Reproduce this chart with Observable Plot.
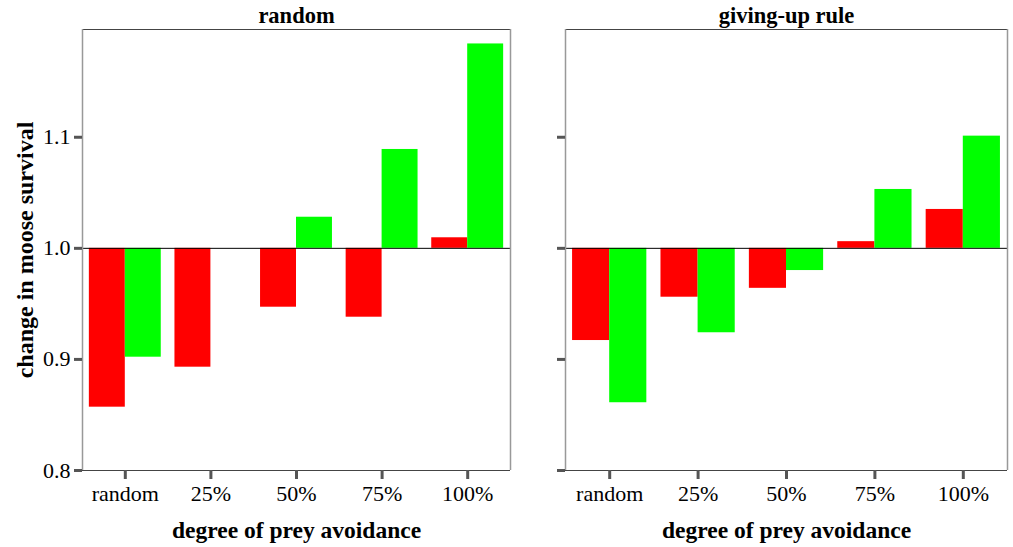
<!DOCTYPE html>
<html>
<head>
<meta charset="utf-8">
<script src="https://cdn.jsdelivr.net/npm/d3@7"></script>
<script src="https://cdn.jsdelivr.net/npm/@observablehq/plot@0.6"></script>
<style>
  body { margin: 0; background: #fff; }
  #chart { position: relative; width: 1013px; height: 547px; overflow: hidden; }
  #chart svg { position: absolute; top: 0; }
</style>
</head>
<body>
<div id="chart"></div>
<script>
// Degree of prey avoidance (x categories)
const categories = ["random", "25%", "50%", "75%", "100%"];

// Panel titles
const panelTitles = ["random", "giving-up rule"];

// Change in moose survival, "random" search panel
const randomRed   = [0.857, 0.893, 0.947, 0.938, 1.0095];
const randomGreen = [0.902, null,  1.028, 1.089, 1.184];

// Change in moose survival, "giving-up rule" panel
const givingUpRed   = [0.917, 0.956, 0.964, 1.006, 1.035];
const givingUpGreen = [0.861, 0.924, 0.980, 1.053, 1.101];

// Y axis ticks
const yTicks = [0.8, 0.9, 1.0, 1.1];

const yMin = 0.8, yMax = 1.197, baseline = 1.0;
const barWidth = 0.42; // fraction of a category slot per bar
const colors = { red: "#ff0000", green: "#00ff00" };
const fontFamily = "'Liberation Serif', 'Times New Roman', Times, serif";
const tickFont = 22;

function rowsFor(red, green) {
  const rows = [];
  categories.forEach((c, i) => {
    if (red[i] != null) rows.push({ i, series: "red", value: red[i] });
    if (green[i] != null) rows.push({ i, series: "green", value: green[i] });
  });
  return rows;
}

function panel({ title, red, green, width, marginLeft, marginRight, yLabels }) {
  const rows = rowsFor(red, green);
  return Plot.plot({
    width,
    height: 547,
    marginTop: 29,
    marginBottom: 77,
    marginLeft,
    marginRight,
    style: { fontFamily, fontSize: `${tickFont}px`, color: "#000", background: "transparent", overflow: "visible" },
    x: { domain: [-0.5, categories.length - 0.5] },
    y: { domain: [yMin, yMax] },
    marks: [
      Plot.rect(rows, {
        x1: d => d.i + (d.series === "red" ? -barWidth : 0),
        x2: d => d.i + (d.series === "red" ? 0 : barWidth),
        y1: baseline,
        y2: "value",
        fill: d => colors[d.series]
      }),
      Plot.ruleY([baseline], { stroke: "#000", strokeWidth: 1 }),
      Plot.ruleY([yMin, yMax], { stroke: "#444", strokeWidth: 1.2 }),
      Plot.ruleX([-0.5, categories.length - 0.5], { stroke: "#999", strokeWidth: 1.5 }),
      Plot.axisY({
        ticks: yTicks,
        tickSize: 8,
        tickPadding: 4,
        tickFormat: yLabels ? d3.format(".1f") : () => "",
        stroke: "#555",
        strokeWidth: 3,
        fontSize: tickFont,
        fill: "#000",
        label: null
      }),
      Plot.axisX({
        ticks: d3.range(categories.length),
        tickSize: 9,
        tickPadding: 6,
        tickFormat: i => categories[i],
        stroke: "#555",
        strokeWidth: 3,
        fontSize: tickFont,
        fill: "#000",
        label: null
      }),
      Plot.text([title], { frameAnchor: "top", lineAnchor: "middle", dy: -14, fontSize: 22.5, fontWeight: "bold", fill: "#000" }),
      Plot.text(["degree of prey avoidance"], { frameAnchor: "bottom", lineAnchor: "middle", dy: 60, fontSize: 23.5, fontWeight: "bold", fill: "#000" }),
      yLabels
        ? Plot.text(["change in moose survival"], { frameAnchor: "left", textAnchor: "middle", lineAnchor: "middle", dx: -57, rotate: -90, fontSize: 24, fontWeight: "bold", fill: "#000" })
        : null
    ]
  });
}

const chart = document.getElementById("chart");

const left = panel({ title: panelTitles[0], red: randomRed, green: randomGreen, width: 515, marginLeft: 82, marginRight: 5, yLabels: true });
left.style.left = "0px";
chart.appendChild(left);

const right = panel({ title: panelTitles[1], red: givingUpRed, green: givingUpGreen, width: 498, marginLeft: 50, marginRight: 6, yLabels: false });
right.style.left = "515px";
chart.appendChild(right);
</script>
</body>
</html>
